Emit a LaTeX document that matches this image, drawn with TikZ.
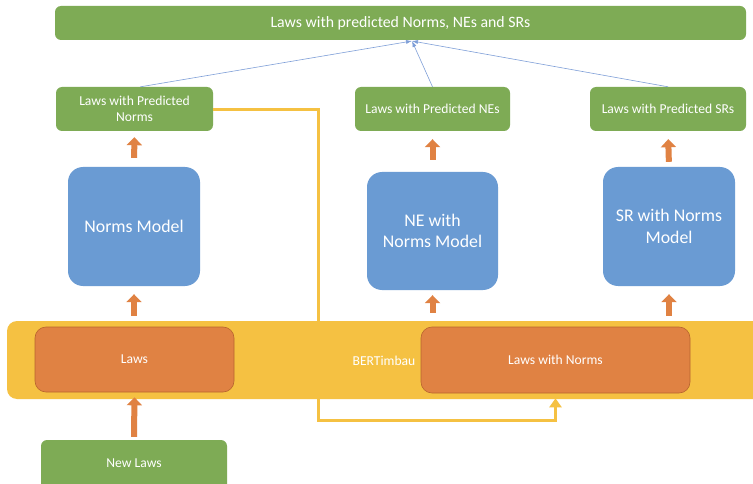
\documentclass[tikz,border=0pt]{standalone}
\usepackage{fontspec}
\setmainfont{Carlito}
\usetikzlibrary{arrows.meta,calc}
\definecolor{grn}{HTML}{7EAB55}
\definecolor{blu}{HTML}{6A9BD3}
\definecolor{orng}{HTML}{E08243}
\definecolor{orngd}{HTML}{B8652E}
\definecolor{ylw}{HTML}{F5C142}
\definecolor{thinb}{HTML}{7F9FD8}
\begin{document}
\begin{tikzpicture}[x=1pt,y=-1pt,
  gbox/.style={fill=grn,text=white,rounded corners=6pt,align=center,font=\fontsize{13.6}{16}\selectfont,inner sep=2pt},
  bbox/.style={fill=blu,text=white,rounded corners=15pt,align=center,font=\fontsize{17.8}{21.5}\selectfont,inner sep=2pt},
  obox/.style={fill=orng,draw=orngd,line width=0.6pt,text=white,rounded corners=11pt,align=center,font=\fontsize{13.6}{16}\selectfont,inner sep=2pt},
  uparr/.style={draw=orng,line width=6pt,-{Triangle[width=15pt,length=8pt]}},
  thin/.style={draw=thinb,line width=0.6pt,-{Latex[length=6pt,width=4pt]}},
  ylink/.style={draw=ylw,line width=3pt,-{Triangle[width=12pt,length=9pt]}}
]
\useasboundingbox (0,0) rectangle (753,484);
\fill[white] (0,0) rectangle (753,484);
% top bar
\node[gbox,minimum width=691pt,minimum height=34pt,font=\fontsize{15.8}{18}\selectfont] (top) at (400.5,23) {Laws with predicted Norms, NEs and SRs};
% green output boxes
\node[gbox,minimum width=157pt,minimum height=44pt] (lg) at (134.5,109) {Laws with Predicted\\Norms};
\node[gbox,minimum width=155pt,minimum height=44pt] (mg) at (432.5,109) {Laws with Predicted NEs};
\node[gbox,minimum width=156pt,minimum height=44pt] (rg) at (668,109) {Laws with Predicted SRs};
% blue models
\node[bbox,minimum width=132pt,minimum height=119pt] (nm) at (134,226.5) {Norms Model};
\node[bbox,minimum width=131pt,minimum height=118pt] (ne) at (432.5,231) {NE with\\Norms Model};
\node[bbox,minimum width=132pt,minimum height=119pt] (sr) at (669,226.5) {SR with Norms\\Model};
% yellow band
\node[fill=ylw,rounded corners=10pt,minimum width=770pt,minimum height=78pt,inner sep=0pt] (band) at (392,360) {};
% thin arrows to top
\coordinate (tip) at (412,41);
\draw[thin] ([xshift=6pt]lg.north) -- (tip);
\draw[thin] (mg.north) -- (tip);
\draw[thin] (rg.north) -- (tip);
% yellow connector
\coordinate (c1) at (318,110);
\coordinate (c2) at (318,420);
\node[obox,minimum width=199pt,minimum height=65pt] (laws) at (134.5,359.5) {Laws};
\node[obox,minimum width=269pt,minimum height=66pt] (lwn) at (555.5,360) {Laws with Norms};
\draw[ylink,shorten >=5pt] (lg.east |- c1) -- (c1) -- (c2) -- (lwn.south |- c2) -- (lwn.south);
\node[text=white,font=\fontsize{13.6}{16}\selectfont] (bert) at (384,360.5) {BERTimbau};
% new laws
\node[gbox,minimum width=186pt,minimum height=50pt] (new) at (134,465) {\raisebox{3pt}{New Laws}};
% orange up arrows
\draw[uparr,shorten <=9pt,shorten >=6pt] (nm.north) -- (lg.south);
\draw[uparr,shorten <=12pt,shorten >=8pt] (ne.north) -- (mg.south);
\draw[uparr,shorten <=5pt,shorten >=8pt] (sr.north) -- (rg.south);
\draw[uparr,shorten <=5pt,shorten >=8pt] (nm.south |- band.north) -- (nm.south);
\draw[uparr,shorten <=8pt,shorten >=5pt] (ne.south |- band.north) -- (ne.south);
\draw[uparr,shorten <=5pt,shorten >=8pt] (sr.south |- band.north) -- (sr.south);
\draw[uparr,shorten <=3pt,shorten >=5pt] (new.north) -- (laws.south);
\end{tikzpicture}
\end{document}
